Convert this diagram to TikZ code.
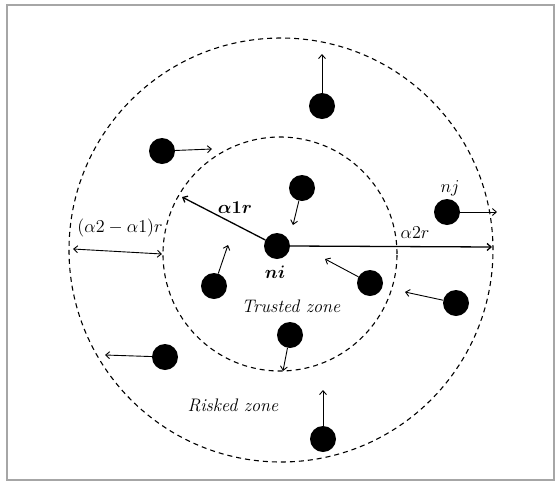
\documentclass[tikz,border=0pt]{standalone}
\usepackage{bm}
\usetikzlibrary{arrows.meta}
\begin{document}
\begin{tikzpicture}[x=1pt,y=-1pt,>={Straight Barb[length=4pt,width=7pt]},
    dot/.style={circle,fill=black,minimum size=26pt,inner sep=0pt},
    zone/.style={dash pattern=on 5pt off 4pt,line width=1.1pt},
    lbl/.style={font=\Large,scale=1.26,inner sep=1pt}]
    \useasboundingbox (0,0) rectangle (558,483);
    \draw[gray!70,line width=1.5pt] (7,5) rectangle (554,480);
    % zones
    \draw[zone] (281,250) circle (212pt);
    \draw[zone] (280,254) circle (117pt);
    % moving nodes
    \foreach \n/\x/\y/\u/\v in {1/322/106/322/54, 2/162/151/212/149,
        3/302/188/293/225, 4/447/212/497/212, 5/214/286/228/245,
        6/370/283/325/259, 7/456/303/405/292, 8/290/335/283/371,
        9/165/357/105/355, 10/323/439/323/390}{
        \node[dot] (d\n) at (\x,\y) {};
        \coordinate (t\n) at (\u,\v);
        \draw[->,line width=0.9pt] (d\n) -- (t\n);
    }
    % node under test
    \node[dot] (ni) at (277,246) {};
    \coordinate (A1) at (182,197);
    \coordinate (A2) at (492,247);
    \draw[->,line width=1.3pt] (ni) -- (A1);
    \draw[->,line width=1.3pt] (ni.east) -- (A2);
    \coordinate (L) at (73,249);
    \coordinate (R) at (162,254);
    \draw[<->,line width=0.9pt] (L) -- (R);
    % labels
    \node[lbl] (lni) at (275,272) {$\bm{ni}$};
    \node[lbl] (lnj) at (450,188) {$nj$};
    \node[lbl] (la1) at (235,208) {$\bm{\alpha 1r}$};
    \node[lbl] (la2) at (415,233) {$\alpha 2r$};
    \node[lbl] (lgap) at (120,228) {$(\alpha 2-\alpha 1)r$};
    \node[lbl] (trusted) at (291,306) {\itshape Trusted zone};
    \node[lbl] (risked) at (233,405) {\itshape Risked zone};
\end{tikzpicture}
\end{document}
